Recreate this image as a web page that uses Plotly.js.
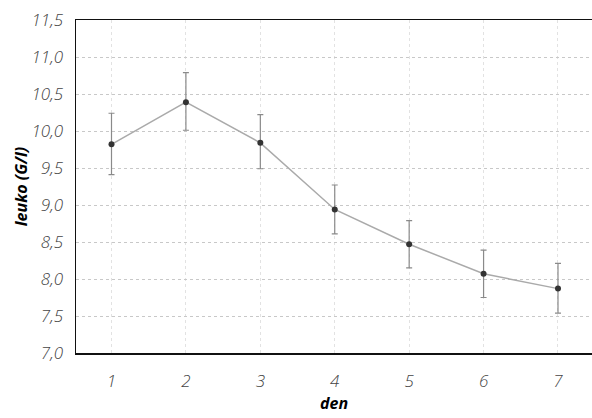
<!DOCTYPE html>
<html>
<head>
<meta charset="utf-8">
<script src="https://cdn.plot.ly/plotly-3.0.1.min.js"></script>
<style>html,body{margin:0;padding:0;overflow:hidden;background:#fff}</style>
</head>
<body>
<div id="chart" style="width:592px;height:418px"></div>
<script>
const days = [1, 2, 3, 4, 5, 6, 7];
const means = [9.82, 10.39, 9.84, 8.94, 8.47, 8.07, 7.87];
const errUpper = [0.42, 0.40, 0.38, 0.33, 0.32, 0.32, 0.34];
const errLower = [0.41, 0.38, 0.35, 0.33, 0.32, 0.32, 0.33];
const yTicks = [7.0, 7.5, 8.0, 8.5, 9.0, 9.5, 10.0, 10.5, 11.0, 11.5];

const trace = {
  x: days,
  y: means,
  type: 'scatter',
  mode: 'lines+markers',
  line: {color: '#aaaaaa', width: 1.5},
  marker: {color: '#333333', size: 6, symbol: 'circle'},
  error_y: {
    type: 'data',
    symmetric: false,
    array: errUpper,
    arrayminus: errLower,
    color: '#8a8a8a',
    thickness: 1.2,
    width: 3
  },
  hoverinfo: 'skip'
};

const tickFont = {family: 'Open Sans', size: 17, color: '#444444', style: 'italic', weight: 300};

const layout = {
  width: 592,
  height: 418,
  margin: {l: 76, r: 0, t: 20, b: 65},
  separators: ', ',
  paper_bgcolor: '#ffffff',
  plot_bgcolor: '#ffffff',
  showlegend: false,
  xaxis: {
    range: [0.523, 7.457],
    tickvals: days,
    ticktext: days.map(String),
    tickfont: tickFont,
    ticks: '',
    ticklabelstandoff: 12,
    showline: true,
    linecolor: '#111111',
    linewidth: 1.5,
    mirror: true,
    showgrid: true,
    gridcolor: '#e2e2e2',
    gridwidth: 1,
    griddash: 'dot',
    zeroline: false,
    title: {text: 'den', font: {family: 'Open Sans', size: 16, color: '#000', style: 'italic', weight: 700}, standoff: 6}
  },
  yaxis: {
    range: [7.0, 11.5],
    tickvals: yTicks,
    tickformat: '.1f',
    tickfont: tickFont,
    ticks: '',
    ticklabelstandoff: 8,
    showline: true,
    linecolor: '#111111',
    linewidth: 1.5,
    showgrid: true,
    gridcolor: '#c8c8c8',
    gridwidth: 1,
    griddash: 'dot',
    zeroline: false,
    title: {text: 'leuko (G/l)', font: {family: 'Open Sans', size: 16, color: '#000', style: 'italic', weight: 700}, standoff: 0}
  }
};

Plotly.newPlot('chart', [trace], layout, {staticPlot: true, displayModeBar: false});
</script>
</body>
</html>
